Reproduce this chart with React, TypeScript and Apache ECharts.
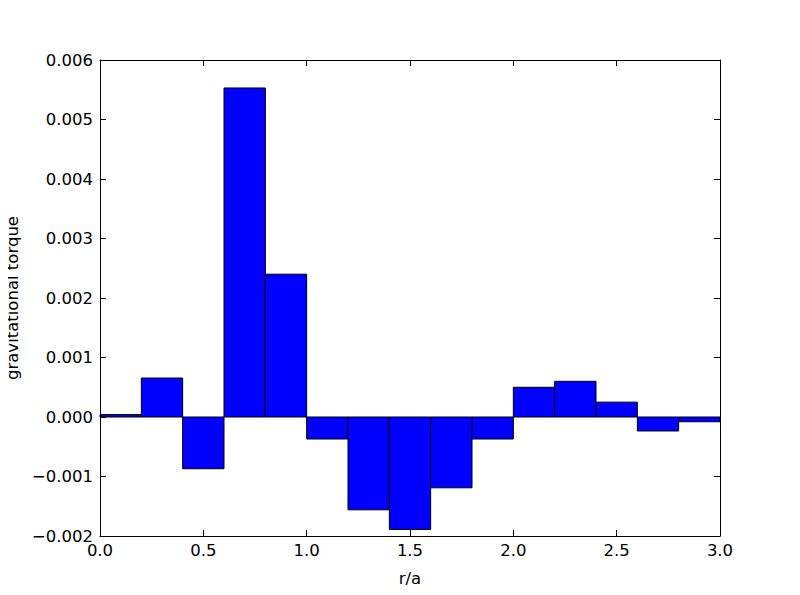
import React, { useEffect, useRef } from "react";
import * as echarts from "echarts";

const binEdges = [0, 0.2, 0.4, 0.6, 0.8, 1.0, 1.2, 1.4, 1.6, 1.8, 2.0, 2.2, 2.4, 2.6, 2.8, 3.0];
const torque = [
  0.00004, 0.000655, -0.00087, 0.00553, 0.0024, -0.00037, -0.00156, -0.00189,
  -0.00119, -0.00037, 0.0005, 0.0006, 0.00025, -0.000235, -0.00008,
];
const xLabel = "r/a";
const yLabel = "gravitational torque";

const FONT = "DejaVu Sans";

export default function App() {
  const ref = useRef<HTMLDivElement>(null);
  useEffect(() => {
    if (!ref.current) return;
    const chart = echarts.init(ref.current, undefined, { renderer: "svg" });
    const data = torque.map((v, i) => [binEdges[i], binEdges[i + 1], v]);
    const fmtY = (v: number) => {
      const s = Math.abs(v) < 1e-12 ? "0.000" : v.toFixed(3);
      return s.replace("-", "\u2212");
    };
    const tickStyle = { show: true, inside: true, length: 6, lineStyle: { color: "#000", width: 1 } };
    const axisLine = { show: true, onZero: false, lineStyle: { color: "#000", width: 1 } };
    const labelStyle = { color: "#000", fontFamily: FONT, fontSize: 16.5 };
    chart.setOption({
      animation: false,
      grid: {
        left: 100,
        right: 80,
        top: 60,
        bottom: 59,
        containLabel: false,
        outerBoundsMode: "none",
      },
      xAxis: [
        {
          type: "value",
          min: 0,
          max: 3,
          interval: 0.5,
          position: "bottom",
          axisLine,
          axisTick: tickStyle,
          splitLine: { show: false },
          axisLabel: { ...labelStyle, margin: 6, formatter: (v: number) => v.toFixed(1) },
          name: xLabel,
          nameLocation: "middle",
          nameGap: 34,
          nameTextStyle: { ...labelStyle },
        },
        {
          type: "value",
          min: 0,
          max: 3,
          interval: 0.5,
          position: "top",
          axisLine,
          axisTick: tickStyle,
          splitLine: { show: false },
          axisLabel: { show: false },
        },
      ],
      yAxis: [
        {
          type: "value",
          min: -0.002,
          max: 0.006,
          interval: 0.001,
          position: "left",
          axisLine,
          axisTick: tickStyle,
          splitLine: { show: false },
          axisLabel: { ...labelStyle, margin: 7, formatter: fmtY },
          name: yLabel,
          nameLocation: "middle",
          nameGap: 70,
          nameTextStyle: { ...labelStyle },
        },
        {
          type: "value",
          min: -0.002,
          max: 0.006,
          interval: 0.001,
          position: "right",
          axisLine,
          axisTick: tickStyle,
          splitLine: { show: false },
          axisLabel: { show: false },
        },
      ],
      series: [
        {
          type: "custom",
          xAxisIndex: 0,
          yAxisIndex: 0,
          data,
          encode: { x: [0, 1], y: 2 },
          renderItem: (params: any, api: any) => {
            const x0 = api.value(0);
            const x1 = api.value(1);
            const y = api.value(2);
            const p0 = api.coord([x0, 0]);
            const p1 = api.coord([x1, y]);
            return {
              type: "rect",
              shape: {
                x: Math.min(p0[0], p1[0]),
                y: Math.min(p0[1], p1[1]),
                width: Math.abs(p1[0] - p0[0]),
                height: Math.abs(p1[1] - p0[1]),
              },
              style: { fill: "#0000ff", stroke: "#000", lineWidth: 1 },
            };
          },
        },
      ],
    });
    return () => chart.dispose();
  }, []);
  return <div ref={ref} style={{ width: 800, height: 595, margin: -8 }} />;
}
